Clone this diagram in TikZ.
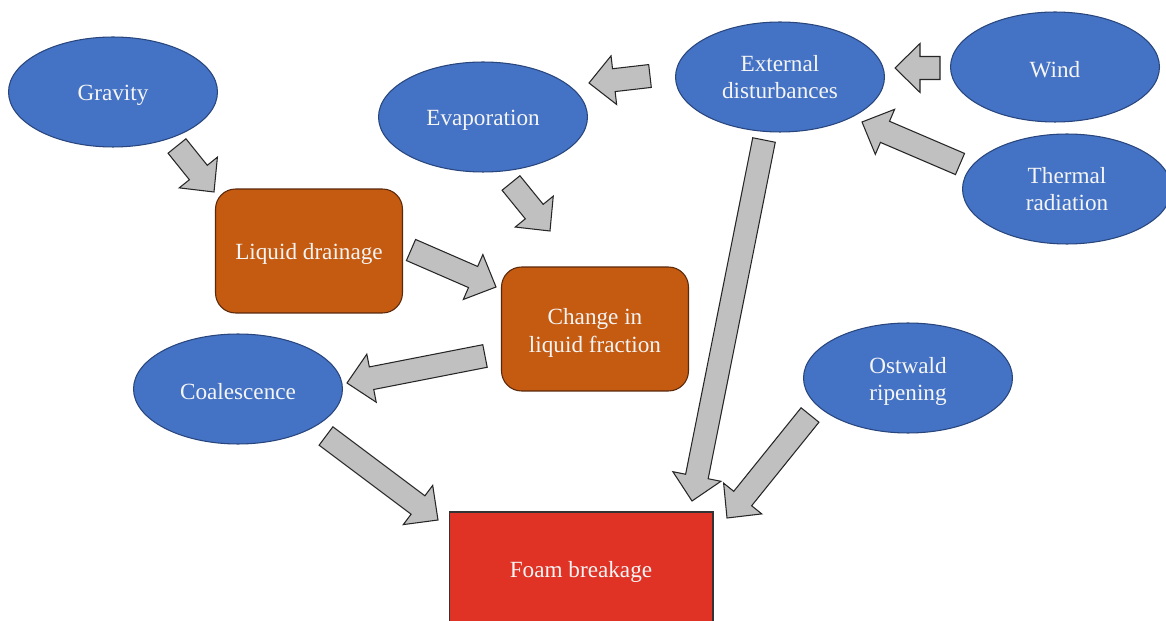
\documentclass[tikz,border=0pt]{standalone}
\usepackage{fontspec}
\setmainfont{Liberation Serif}
\usepackage{tikz}
\usetikzlibrary{calc, positioning, shapes.geometric}
\definecolor{causeblue}{RGB}{68,114,196}
\definecolor{causeedge}{RGB}{40,70,125}
\definecolor{burnt}{RGB}{197,90,17}
\definecolor{burntedge}{RGB}{90,40,10}
\definecolor{foamred}{RGB}{224,51,38}
\definecolor{arrowgray}{RGB}{192,192,192}
\definecolor{offwhite}{RGB}{245,245,245}

\tikzset{
	lowtext/.style={execute at begin node={\rule{0pt}{12.6pt}}},
	cause/.style={ellipse, fill=causeblue, draw=causeedge, line width=0.6pt, minimum width=4.18cm, minimum height=2.2cm, inner sep=0pt, text=offwhite, align=center, lowtext},
	process/.style={rectangle, rounded corners=0.4cm, fill=burnt, draw=burntedge, line width=0.6pt, minimum width=3.74cm, minimum height=2.48cm, text=offwhite, align=center, lowtext},
	result/.style={rectangle, fill=foamred, draw=black!80, line width=0.6pt, minimum width=5.28cm, minimum height=2.28cm, text=offwhite, align=center, lowtext},
	blockarrow/.style={fill=arrowgray, draw=black!85, line width=0.6pt, line join=miter}
}

% first line pushed a bit lower
\newcommand{\lowline}{\rule{0pt}{13.5pt}}

% fat gray arrow from tail #1 to tip #2
\newcommand{\blockarrow}[2]{%
	\coordinate (neck) at ($(#2)!0.5cm!(#1)$);
	\draw[blockarrow] ($(#1)!0.23cm!90:(#2)$) -- ($(neck)!0.23cm!90:(#2)$) -- ($(neck)!0.49cm!90:(#2)$) -- (#2)
	-- ($(neck)!0.49cm!-90:(#2)$) -- ($(neck)!0.23cm!-90:(#2)$) -- ($(#1)!0.23cm!-90:(#2)$) -- cycle;
}

\begin{document}
\begin{tikzpicture}[x=0.02cm, y=-0.02cm, font=\fontsize{13.2}{15.5}\selectfont]
	\useasboundingbox (0,0) rectangle (1166,621);
	\fill[white] (0,0) rectangle (1166,621);

	%----------------------------------------------------------------
	\node(gravity) [cause] at (113,92) {Gravity};
	\node(evap) [cause] at (483,117) {Evaporation};
	\node(external) [cause] at (780,77) {External\\disturbances};
	\node(wind) [cause] at (1055,67) {Wind};
	\node(thermal) [cause] at (1067,189) {Thermal\\radiation};
	\node(coal) [cause] at (238,389) {Coalescence};
	\node(ostwald) [cause] at (908,378) {\lowline Ostwald\\ripening};

	%----------------------------------------------------------------
	\node(drainage) [process] at (309,251) {Liquid drainage};
	\node(fraction) [process] at (595,329) {\lowline Change in\\liquid fraction};
	\node(foam) [result] at (581,569) {Foam breakage};

	%----------------------------------------------------------------
	\coordinate (gravity-out) at (177,146);
	\coordinate (drainage-in) at (214,192);
	\coordinate (evap-out) at (511,183);
	\coordinate (fraction-in1) at (550,231);
	\coordinate (drainage-out) at (411,250);
	\coordinate (fraction-in2) at (496,287);
	\coordinate (fraction-out) at (485,356);
	\coordinate (coal-in) at (347,383);
	\coordinate (coal-out) at (326,436);
	\coordinate (foam-in1) at (438,520);
	\coordinate (external-out1) at (764,140);
	\coordinate (foam-in2) at (692,501);
	\coordinate (ostwald-out) at (810,415);
	\coordinate (foam-in3) at (727,518);
	\coordinate (thermal-out) at (960,164);
	\coordinate (external-in1) at (862,122);
	\coordinate (wind-out) at (940,68);
	\coordinate (external-in2) at (895,68);
	\coordinate (external-out2) at (650,76);
	\coordinate (evap-in) at (589,83);

	\blockarrow{gravity-out}{drainage-in}
	\blockarrow{evap-out}{fraction-in1}
	\blockarrow{drainage-out}{fraction-in2}
	\blockarrow{fraction-out}{coal-in}
	\blockarrow{coal-out}{foam-in1}
	\blockarrow{external-out1}{foam-in2}
	\blockarrow{ostwald-out}{foam-in3}
	\blockarrow{thermal-out}{external-in1}
	\blockarrow{wind-out}{external-in2}
	\blockarrow{external-out2}{evap-in}
\end{tikzpicture}
\end{document}
